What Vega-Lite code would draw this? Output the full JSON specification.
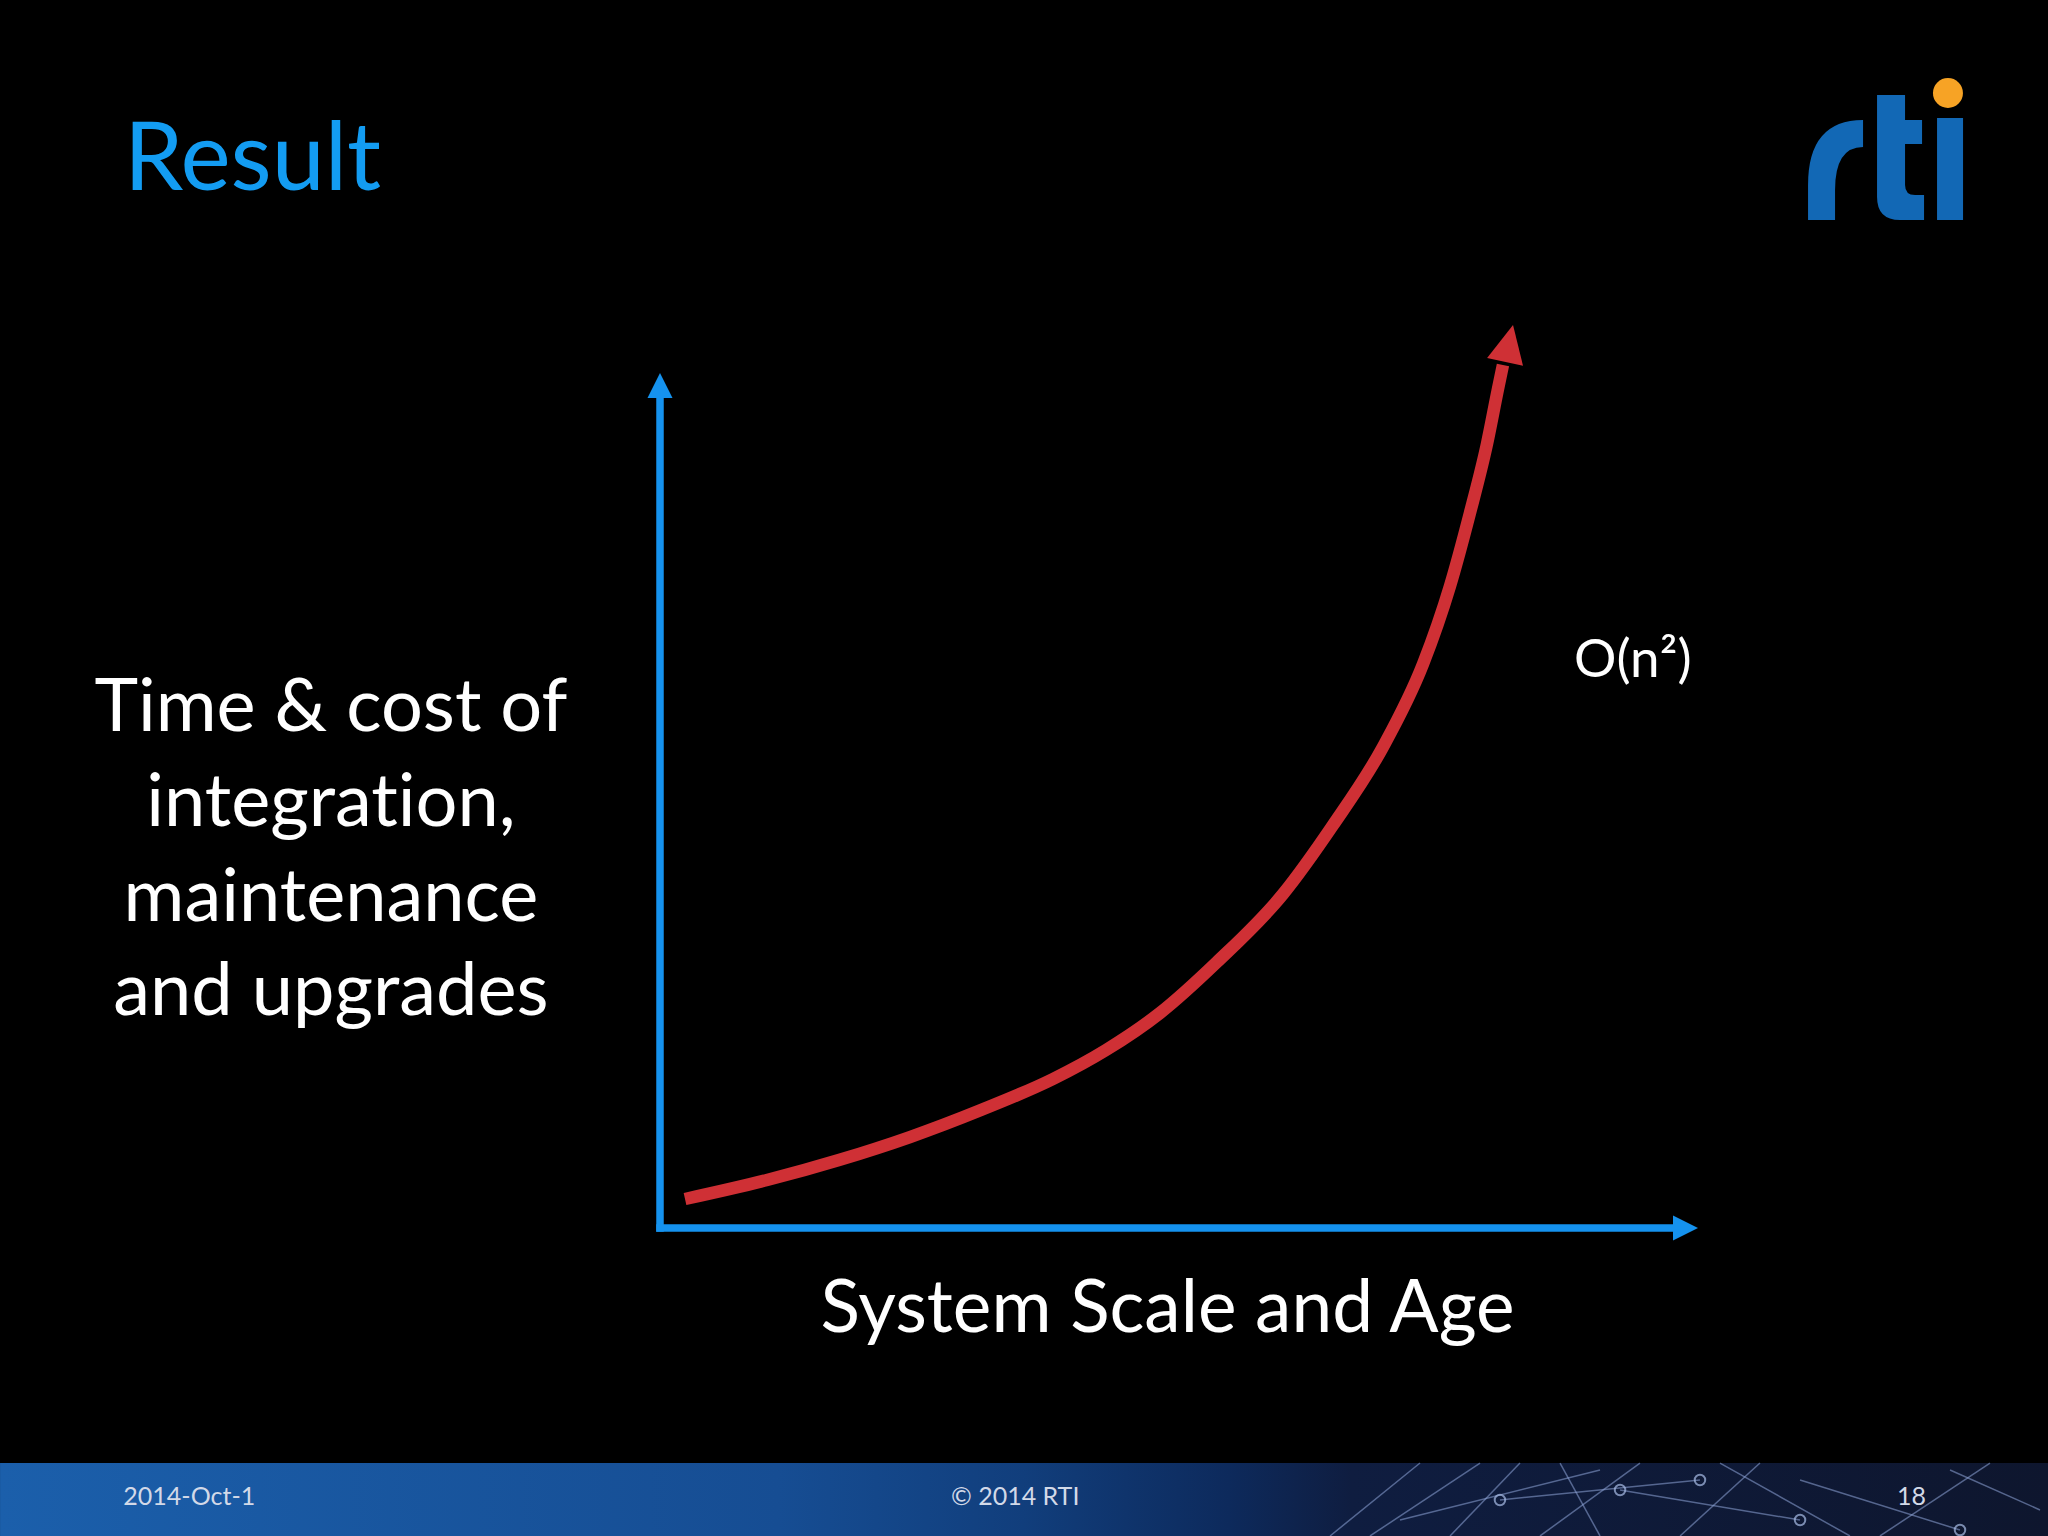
{
  "$schema": "https://vega.github.io/schema/vega-lite/v6.json",
  "autosize": {"type": "none"},
  "width": 1038,
  "height": 855,
  "padding": {"left": 660, "top": 373, "right": 350, "bottom": 308},
  "background": "#000000",
  "config": {"view": {"stroke": null}},
  "datasets": {
    "footer": [{"x": -63.58, "x2": 133.72, "y": -27.49, "y2": -36.02}],
    "network": [
      {"x": 64.55, "y": -36.02, "x2": 73.22, "y2": -27.49},
      {"x": 68.4, "y": -36.02, "x2": 79.0, "y2": -27.49},
      {"x": 71.29, "y": -34.15, "x2": 90.56, "y2": -28.3},
      {"x": 76.11, "y": -36.02, "x2": 82.85, "y2": -27.49},
      {"x": 80.92, "y": -31.81, "x2": 100.19, "y2": -29.47},
      {"x": 84.78, "y": -36.02, "x2": 94.41, "y2": -27.49},
      {"x": 90.56, "y": -36.02, "x2": 86.71, "y2": -27.49},
      {"x": 92.49, "y": -30.64, "x2": 109.83, "y2": -34.15},
      {"x": 98.27, "y": -36.02, "x2": 105.97, "y2": -27.49},
      {"x": 102.12, "y": -27.49, "x2": 114.64, "y2": -36.02},
      {"x": 109.83, "y": -29.47, "x2": 125.24, "y2": -35.32},
      {"x": 117.53, "y": -36.02, "x2": 128.13, "y2": -27.49},
      {"x": 124.28, "y": -28.3, "x2": 132.95, "y2": -32.98}
    ],
    "nodes": [
      {"x": 92.49, "y": -30.64},
      {"x": 100.19, "y": -29.47},
      {"x": 109.83, "y": -34.15},
      {"x": 125.24, "y": -35.32},
      {"x": 80.92, "y": -31.81}
    ],
    "axes": [
      {"name": "y axis", "x": 0, "y": 0, "x2": 0, "y2": 97.3},
      {"name": "x axis", "x": 0, "y": 0, "x2": 97.8, "y2": 0}
    ],
    "axisHeads": [
      {"name": "y axis", "x": 0, "y": 100, "angle": 0},
      {"name": "x axis", "x": 100, "y": 0, "angle": 90}
    ],
    "curve": [
      {"x": 2.41, "y": 3.39},
      {"x": 10.31, "y": 5.61},
      {"x": 17.24, "y": 7.95},
      {"x": 24.08, "y": 10.64},
      {"x": 30.92, "y": 13.8},
      {"x": 37.86, "y": 17.43},
      {"x": 42.97, "y": 20.82},
      {"x": 48.17, "y": 25.15},
      {"x": 53.66, "y": 31.11},
      {"x": 60.02, "y": 39.06},
      {"x": 64.84, "y": 47.13},
      {"x": 69.65, "y": 56.26},
      {"x": 73.51, "y": 65.96},
      {"x": 76.11, "y": 75.09},
      {"x": 78.03, "y": 83.63},
      {"x": 79.67, "y": 91.7},
      {"x": 80.73, "y": 98.13},
      {"x": 81.21, "y": 100.94}
    ],
    "curveHead": [{"x": 82.18, "y": 105.61, "angle": 12.2}],
    "title": [{"x": -51.64, "y": 121.4, "label": "Result"}],
    "ylab": [
      {"x": -31.7, "y": 58.13, "label": "Time & cost of"},
      {"x": -31.7, "y": 47.02, "label": "integrat‌ion,"},
      {"x": -31.7, "y": 35.91, "label": "maintenance"},
      {"x": -31.7, "y": 24.9, "label": "and upgrades"}
    ],
    "xlab": [{"x": 48.9, "y": -12.16, "label": "System Scale and Age"}],
    "note": [{"x": 88.05, "y": 64.44, "label": "O(n²)"}],
    "logo": [{"x": 118.02, "y": 125.26, "name": "rti"}],
    "logoDot": [{"x": 124.08, "y": 132.75}],
    "footerText": [
      {"x": -51.7, "y": -32.4, "label": "2014-Oct-1"},
      {"x": 28.03, "y": -32.4, "label": "© 2014 RTI"},
      {"x": 119.17, "y": -32.4, "label": "18"}
    ]
  },
  "encoding": {
    "x": {"field": "x", "type": "quantitative", "scale": {"domain": [0, 100], "nice": false, "zero": false}, "axis": null},
    "y": {"field": "y", "type": "quantitative", "scale": {"domain": [0, 100], "nice": false, "zero": false}, "axis": null}
  },
  "layer": [
    {
      "data": {"name": "footer"},
      "mark": {
        "type": "rect",
        "fill": {
          "gradient": "linear", "x1": 0, "y1": 0, "x2": 1, "y2": 0,
          "stops": [
            {"offset": 0, "color": "#1b5fab"},
            {"offset": 0.38, "color": "#164d93"},
            {"offset": 0.5, "color": "#113e7c"},
            {"offset": 0.6, "color": "#0d2a5c"},
            {"offset": 0.66, "color": "#0f1d40"},
            {"offset": 1, "color": "#0e162e"}
          ]
        }
      },
      "encoding": {"x2": {"field": "x2"}, "y2": {"field": "y2"}}
    },
    {
      "data": {"name": "network"},
      "mark": {"type": "rule", "color": "#8fa6d8", "strokeWidth": 1.5, "opacity": 0.55},
      "encoding": {"x2": {"field": "x2"}, "y2": {"field": "y2"}}
    },
    {
      "data": {"name": "nodes"},
      "mark": {"type": "point", "shape": "circle", "filled": false, "color": "#a9bde6", "size": 110, "strokeWidth": 2, "opacity": 0.7}
    },
    {
      "data": {"name": "axes"},
      "mark": {"type": "rule", "color": "#1592ee", "strokeWidth": 7.5, "strokeCap": "square"},
      "encoding": {"x2": {"field": "x2"}, "y2": {"field": "y2"}}
    },
    {
      "data": {"name": "axisHeads"},
      "mark": {"type": "point", "shape": "M0,0L1,2L-1,2Z", "filled": true, "opacity": 1, "color": "#1592ee", "size": 625, "strokeWidth": 0},
      "encoding": {"angle": {"field": "angle", "type": "quantitative", "scale": null}}
    },
    {
      "data": {"name": "curve"},
      "mark": {"type": "line", "interpolate": "monotone", "color": "#cf3035", "strokeWidth": 12.5, "strokeCap": "butt"}
    },
    {
      "data": {"name": "curveHead"},
      "mark": {"type": "point", "shape": "M0,0L1,2.05L-1,2.05Z", "filled": true, "opacity": 1, "color": "#cf3035", "size": 1350, "strokeWidth": 0},
      "encoding": {"angle": {"field": "angle", "type": "quantitative", "scale": null}}
    },
    {
      "data": {"name": "title"},
      "mark": {"type": "text", "align": "left", "baseline": "alphabetic", "font": "Lato", "fontSize": 95, "color": "#139cf2"},
      "encoding": {"text": {"field": "label"}}
    },
    {
      "data": {"name": "ylab"},
      "mark": {"type": "text", "align": "center", "baseline": "alphabetic", "font": "Lato", "fontSize": 74, "color": "#ffffff"},
      "encoding": {"text": {"field": "label"}}
    },
    {
      "data": {"name": "xlab"},
      "mark": {"type": "text", "align": "center", "baseline": "alphabetic", "font": "Lato", "fontSize": 73, "color": "#ffffff"},
      "encoding": {"text": {"field": "label"}}
    },
    {
      "data": {"name": "note"},
      "mark": {"type": "text", "align": "left", "baseline": "alphabetic", "font": "Lato", "fontSize": 53, "color": "#ffffff"},
      "encoding": {"text": {"field": "label"}}
    },
    {
      "data": {"name": "logo"},
      "mark": {
        "type": "point",
        "shape": "M-77,63L-77,28Q-77,-37,-22,-37L-22,-10Q-50,-10,-50,33L-50,63ZM-8,-62L20,-62L20,-37L37,-37L37,-13L20,-13L20,28Q20,38,30,38L39,38L39,63L15,63Q-8,63,-8,40ZM52,-39L78,-39L78,63L52,63Z",
        "filled": true,
        "opacity": 1,
        "color": "#1268b5",
        "size": 4,
        "strokeWidth": 0
      }
    },
    {
      "data": {"name": "logoDot"},
      "mark": {"type": "point", "shape": "circle", "filled": true, "opacity": 1, "color": "#f7a325", "size": 900, "strokeWidth": 0}
    },
    {
      "data": {"name": "footerText"},
      "mark": {"type": "text", "align": "left", "baseline": "alphabetic", "font": "Lato", "fontSize": 25, "color": "#d2d9e8"},
      "encoding": {"text": {"field": "label"}}
    }
  ]
}
